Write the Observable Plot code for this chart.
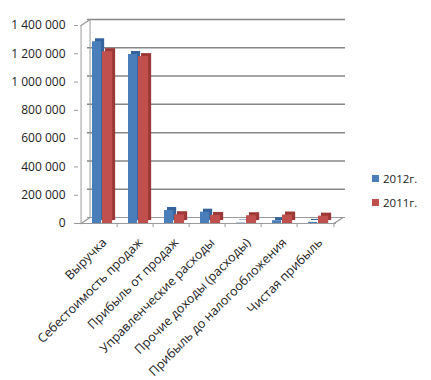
<!DOCTYPE html>
<html>
<head>
<meta charset="utf-8">
<script src="https://cdn.jsdelivr.net/npm/d3@7"></script>
<script src="https://cdn.jsdelivr.net/npm/@observablehq/plot@0.6"></script>
<style>
  body { margin: 0; background: #fff; font-family: "Open Sans", sans-serif; }
  #wrap { position: relative; width: 431px; height: 380px; }
  #legend { position: absolute; left: 372px; top: 166px; font-size: 11.5px; color: #222; }
  #legend div { display: flex; align-items: center; height: 24px; }
  #legend span.sw { display: inline-block; width: 7px; height: 7px; margin-right: 4px; }
</style>
</head>
<body>
<div id="wrap"><div id="chart"></div><div id="legend"></div></div>
<script>
const categories = ["Выручка", "Себестоимость продаж", "Прибыль от продаж", "Управленческие расходы", "Прочие доходы (расходы)", "Прибыль до налогообложения", "Чистая прибыль"];
const series = ["2012г.", "2011г."];
const values2012 = [1285000, 1195000, 92000, 80000, 3000, 20000, 8000];
const values2011 = [1215000, 1180000, 62000, 57000, 55000, 60000, 52000];
const yTicks = [0, 200000, 400000, 600000, 800000, 1000000, 1200000, 1400000];

const colors = {"2012г.": "#4a7ebb", "2011г.": "#c0504d"};
const dark = {"2012г.": "#35639c", "2011г.": "#9c3936"};

const d2012 = categories.map((c, i) => ({cat: c, v: values2012[i]}));
const d2011 = categories.map((c, i) => ({cat: c, v: values2011[i]}));

const W = 431, H = 380, mL = 78, mR = 95, mT = 25, mB = 157;
const bw = (W - mL - mR) / categories.length;
const fmt = v => d3.format(",")(v).replace(/,/g, " ");
const DX = 9, DY = -6;
const slant = {draw(ctx, l) { ctx.moveTo(0, 0); ctx.lineTo(0, -l); }};
const axisColor = "#9a9a9a";

const chart = Plot.plot({
  width: W, height: H,
  marginLeft: mL, marginRight: mR, marginTop: mT, marginBottom: mB,
  style: {fontFamily: "Open Sans, sans-serif", fontSize: "12px", color: "#222"},
  x: {domain: categories, padding: 0, label: null},
  y: {domain: [0, 1400000], label: null},
  marks: [
    Plot.axisY({ticks: yTicks, tickFormat: fmt, tickSize: 4, tickPadding: 9, stroke: axisColor, fontSize: 12, fill: "#222"}),
    Plot.axisX({tickSize: 0, tickRotate: -45, tickPadding: 12, dx: 5, dy: 5, fontSize: 12.5, fill: "#222"}),
    // back wall gridlines
    Plot.ruleY(yTicks.slice(1), {stroke: "#868686", strokeWidth: 1.5, dx: DX, dy: DY}),
    // back wall floor line
    Plot.ruleY([0], {stroke: axisColor, dx: DX, dy: DY}),
    // back wall vertical line
    Plot.ruleX([categories[0]], {y1: 0, y2: 1400000, dx: -bw / 2 + DX, dy: DY, stroke: axisColor}),
    // front axis line
    Plot.ruleX([categories[0]], {y1: 0, y2: 1400000, dx: -bw / 2, stroke: axisColor}),
    // front floor edge
    Plot.ruleY([0], {stroke: axisColor}),
    // slanted connectors (depth edges)
    Plot.vector([1400000, 0], {x: () => categories[0], y: d => d, dx: -bw / 2, length: Math.hypot(DX, DY), rotate: Math.atan2(DX, -DY) * 180 / Math.PI, anchor: "start", shape: slant, stroke: axisColor}),
    Plot.vector([0], {x: () => categories[categories.length - 1], y: d => d, dx: bw / 2, length: Math.hypot(DX, DY), rotate: Math.atan2(DX, -DY) * 180 / Math.PI, anchor: "start", shape: slant, stroke: axisColor}),
    // category boundary ticks on floor
    Plot.ruleX(categories.slice(1), {y1: 0, y2: 0, dx: -bw / 2, insetBottom: -4, stroke: axisColor}),
    Plot.ruleX([categories[categories.length - 1]], {y1: 0, y2: 0, dx: bw / 2, insetBottom: -4, stroke: axisColor}),
    // 2012 depth + front
    Plot.barY(d2012, {x: "cat", y: "v", insetLeft: 11, insetRight: bw - 21, dx: 3, dy: -3, fill: dark["2012г."]}),
    Plot.barY(d2012, {x: "cat", y: "v", insetLeft: 11, insetRight: bw - 21, fill: colors["2012г."]}),
    // 2011 depth + front
    Plot.barY(d2011, {x: "cat", y: "v", insetLeft: 21, insetRight: bw - 32, dx: 3, dy: -3, fill: dark["2011г."]}),
    Plot.barY(d2011, {x: "cat", y: "v", insetLeft: 21, insetRight: bw - 32, fill: colors["2011г."]})
  ]
});
document.getElementById("chart").appendChild(chart);

const legend = document.getElementById("legend");
series.forEach(s => {
  const row = document.createElement("div");
  row.innerHTML = `<span class="sw" style="background:${colors[s]}"></span>${s}`;
  legend.appendChild(row);
});
</script>
</body>
</html>
